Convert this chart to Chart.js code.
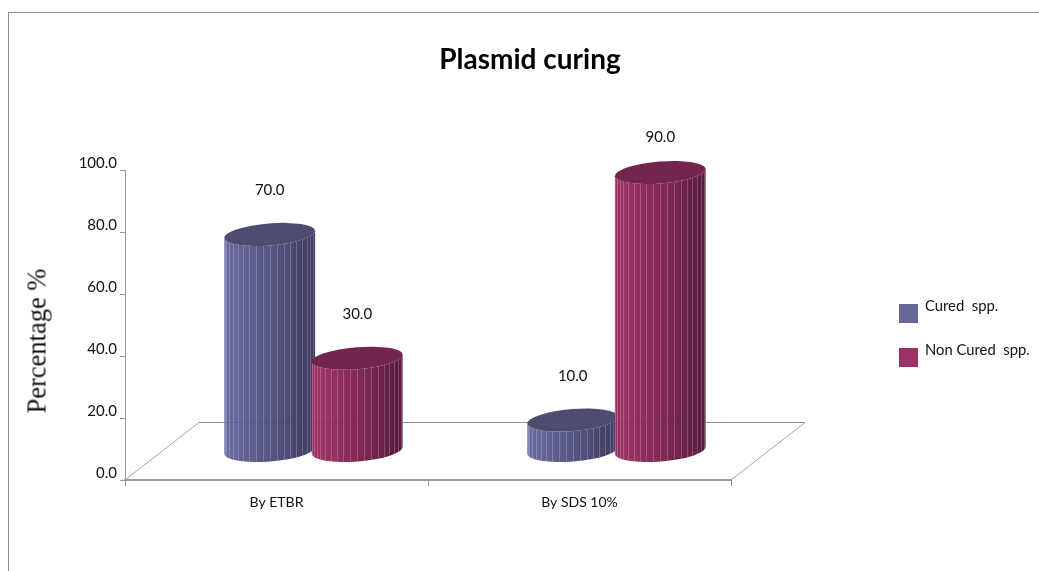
<!DOCTYPE html>
<html>
<head>
<meta charset="utf-8">
<title>Plasmid curing</title>
<script src="https://cdn.jsdelivr.net/npm/chart.js@4"></script>
<style>
    html, body { margin: 0; padding: 0; background: #fff; overflow: hidden; }
    body { width: 1039px; height: 571px; position: relative; }
    #frame { position: absolute; left: 8px; top: 12px; right: 0; bottom: 0; border-left: 1px solid #8c8c8c; border-top: 1px solid #8c8c8c; }
    #wrap { position: absolute; left: 21px; top: 0; width: 1018px; height: 571px; }
    #yTitle { position: absolute; left: 37px; top: 341px; transform: translate(-50%, -50%) rotate(-90deg); font: 26.5px "Liberation Serif", serif; color: #111; white-space: pre; }
    .swatch { position: absolute; left: 899px; width: 19px; height: 19px; }
    .legendText { position: absolute; left: 925px; font: 14.8px Lato, sans-serif; color: #111; white-space: pre; line-height: 16px; }
</style>
</head>
<body>
<div id="frame"></div>
<div id="wrap"><canvas id="curingChart" width="1018" height="571"></canvas></div>
<div id="yTitle">Percentage %</div>
<div id="legend"></div>

<script>
const categories = ['By ETBR', 'By SDS 10%'];
const curedValues = [70, 10];
const nonCuredValues = [30, 90];
const seriesNames = ['Cured  spp.', 'Non Cured  spp.'];
const seriesColors = ['#666699', '#993366'];

// shades for the fake 3d look: left, middle, right of the body, then the lid
const cylinderShades = {
    '#666699': ['#6b6ba2', '#585886', '#3d3d5f', '#4d4d70'],
    '#993366': ['#a03469', '#872b59', '#561c3c', '#72264e']
};

// floor runs back by this much, bars stand half way along it
const depthX = 74;
const depthY = -58;

function drawCylinder(ctx, el, color) {
    const shades = cylinderShades[color];
    const cx = el.x + depthX / 2;
    const top = el.y + depthY / 2;
    const bottom = el.base + depthY / 2;
    const rx = el.width / 2;
    const ry = 11;
    const tilt = -0.08;
    const dy = rx * Math.sin(tilt);

    const body = new Path2D();
    body.ellipse(cx, bottom, rx, ry, tilt, Math.PI, 0, true);
    body.lineTo(cx + rx * Math.cos(tilt), top + dy);
    body.ellipse(cx, top, rx, ry, tilt, 0, Math.PI, false);
    body.closePath();

    const grad = ctx.createLinearGradient(cx - rx, 0, cx + rx, 0);
    grad.addColorStop(0, shades[0]);
    grad.addColorStop(0.45, shades[1]);
    grad.addColorStop(1, shades[2]);
    ctx.fillStyle = grad;
    ctx.fill(body);

    // thin pale ribs round the side, closer together near the edges
    ctx.save();
    ctx.clip(body);
    ctx.strokeStyle = 'rgba(255,255,255,0.2)';
    ctx.lineWidth = 1;
    for (let i = 1; i < 20; i++) {
        const a = Math.PI * i / 20;
        const px = Math.round(cx - rx * Math.cos(a)) + 0.5;
        const py = ry * Math.sin(a) - (px - cx) * Math.tan(-tilt);
        ctx.beginPath();
        ctx.moveTo(px, top + py);
        ctx.lineTo(px, bottom + py);
        ctx.stroke();
    }
    ctx.restore();

    ctx.beginPath();
    ctx.ellipse(cx, top, rx, ry, tilt, 0, Math.PI * 2);
    ctx.fillStyle = shades[3];
    ctx.fill();
}

const cylinderPlugin = {
    id: 'cylinders',
    afterLayout(chart) {
        // title is centred on the whole canvas, not just the plot
        chart.titleBlock.left = 0;
        chart.titleBlock.right = chart.width;
    },
    beforeDatasetsDraw(chart) {
        const { ctx, chartArea: a } = chart;
        ctx.save();
        ctx.strokeStyle = '#a6a6a6';
        ctx.lineWidth = 1;
        ctx.beginPath();
        ctx.moveTo(a.left, a.bottom);
        ctx.lineTo(a.left + depthX, a.bottom + depthY + 0.5);
        ctx.lineTo(a.right + depthX, a.bottom + depthY + 0.5);
        ctx.lineTo(a.right, a.bottom);
        ctx.stroke();
        ctx.restore();
        // series in order, so the second one overlaps the first
        chart.data.datasets.forEach((ds, i) => {
            chart.getDatasetMeta(i).data.forEach(el => drawCylinder(ctx, el, ds.backgroundColor));
        });
    },
    beforeDatasetDraw() {
        return false;
    },
    afterDatasetsDraw(chart) {
        const { ctx, chartArea: a } = chart;
        ctx.save();
        // back edge of the floor shows faintly through the bars
        ctx.strokeStyle = 'rgba(60,60,60,0.18)';
        ctx.beginPath();
        ctx.moveTo(a.left + depthX, a.bottom + depthY + 0.5);
        ctx.lineTo(a.right + depthX, a.bottom + depthY + 0.5);
        ctx.stroke();
        // value labels, kept from climbing too far above the axis top
        ctx.font = '15px Lato, sans-serif';
        ctx.fillStyle = '#111';
        ctx.textAlign = 'center';
        ctx.textBaseline = 'middle';
        chart.data.datasets.forEach((ds, i) => {
            chart.getDatasetMeta(i).data.forEach((el, j) => {
                const labelY = Math.max(el.y + depthY / 2 - 44, a.top - 33);
                ctx.fillText(ds.data[j].toFixed(1), el.x + depthX / 2, labelY);
            });
        });
        ctx.restore();
    }
};

new Chart(document.getElementById('curingChart'), {
    type: 'bar',
    data: {
        labels: categories,
        datasets: [
            { label: seriesNames[0], data: curedValues, backgroundColor: seriesColors[0] },
            { label: seriesNames[1], data: nonCuredValues, backgroundColor: seriesColors[1] }
        ]
    },
    options: {
        responsive: false,
        animation: false,
        datasets: { bar: { categoryPercentage: 0.578, barPercentage: 1.04 } },
        layout: { padding: { left: 0, right: 308, top: 0, bottom: 0 } },
        plugins: {
            legend: { display: false },
            tooltip: { enabled: false },
            title: {
                display: true,
                text: 'Plasmid curing',
                color: '#000',
                font: { family: 'Lato, sans-serif', size: 28, weight: 'bold' },
                padding: { top: 43, bottom: 94 }
            }
        },
        scales: {
            x: {
                grid: { offset: true, drawOnChartArea: false, drawTicks: true, tickLength: 6, color: '#9a9a9a' },
                border: { color: '#9a9a9a', width: 2 },
                ticks: { color: '#111', font: { family: 'Lato, sans-serif', size: 14 }, padding: 8, maxRotation: 0 },
                afterFit(scale) { scale.height = 91; }
            },
            y: {
                min: 0,
                max: 100,
                grid: { drawOnChartArea: false, drawTicks: true, tickLength: 5, color: '#9a9a9a' },
                border: { color: '#9a9a9a', width: 1 },
                ticks: {
                    stepSize: 20,
                    color: '#111',
                    labelOffset: -7,
                    padding: 3,
                    font: { family: 'Lato, sans-serif', size: 15 },
                    callback: v => v.toFixed(1)
                },
                afterFit(scale) { scale.width = 104; }
            }
        }
    },
    plugins: [cylinderPlugin]
});

// legend sits well away from the plot, so it is plain html
const legendBox = document.getElementById('legend');
seriesNames.forEach((name, i) => {
    const swatch = document.createElement('div');
    swatch.className = 'swatch';
    swatch.style.top = (304 + i * 44) + 'px';
    swatch.style.background = seriesColors[i];
    legendBox.appendChild(swatch);
    const text = document.createElement('div');
    text.className = 'legendText';
    text.style.top = (297 + i * 44) + 'px';
    text.textContent = name;
    legendBox.appendChild(text);
});
</script>
</body>
</html>
